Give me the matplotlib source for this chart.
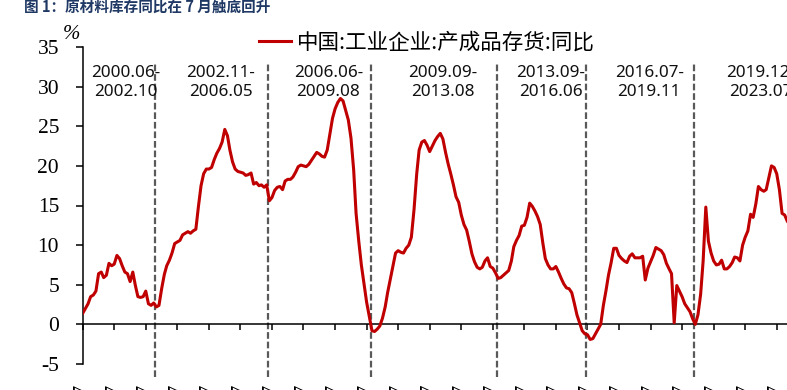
import matplotlib
matplotlib.use('Agg')
import matplotlib.pyplot as plt
import numpy as np
import pandas as pd

plt.rcParams.update({
    'font.family': ['Liberation Serif', 'DejaVu Sans'],
    'axes.linewidth': 1.1,
})

# --- data (monthly) ---
TITLE = '图 1：原材料库存同比在 7 月触底回升'
SERIES_NAME = '中国:工业企业:产成品存货:同比'
START = '2000-07-01'

inventory_yoy = [
    # 2000.07 - 2001.06
    1.4, 2.0, 2.6, 3.5, 3.7, 4.2, 6.4, 6.6, 5.9, 6.2, 7.7, 7.4,
    # 2001.07 - 2002.06
    7.6, 8.7, 8.3, 7.4, 6.6, 6.4, 5.4, 6.6, 5.0, 3.5, 3.4, 3.5,
    # 2002.07 - 2003.06
    4.2, 2.6, 2.4, 2.7, 2.2, 2.4, 4.5, 6.3, 7.4, 8.1, 9.0, 10.2,
    # 2003.07 - 2004.06
    10.4, 10.6, 11.3, 11.5, 11.7, 11.5, 11.8, 12.0, 14.8, 17.5, 19.0, 19.6,
    # 2004.07 - 2005.06
    19.6, 19.8, 20.8, 21.6, 22.2, 23.0, 24.6, 23.8, 22.0, 20.5, 19.6, 19.3,
    # 2005.07 - 2006.06
    19.2, 19.1, 18.8, 18.9, 19.1, 17.7, 17.9, 17.5, 17.6, 17.3, 17.6, 15.6,
    # 2006.07 - 2007.06
    16.0, 16.9, 17.3, 17.4, 17.0, 18.1, 18.3, 18.3, 18.6, 19.2, 19.9, 20.1,
    # 2007.07 - 2008.06
    20.0, 19.9, 20.2, 20.7, 21.2, 21.7, 21.5, 21.2, 21.1, 22.0, 24.0, 26.0,
    # 2008.07 - 2009.06
    27.2, 28.0, 28.5, 28.2, 27.0, 25.8, 23.5, 19.5, 14.0, 10.5, 7.5, 5.1,
    # 2009.07 - 2010.06
    2.8, 1.0, -0.8, -0.9, -0.6, -0.2, 0.8, 2.2, 4.0, 5.7, 7.4, 9.0,
    # 2010.07 - 2011.06
    9.3, 9.1, 9.0, 9.6, 10.0, 11.0, 14.5, 19.0, 22.0, 23.0, 23.2, 22.6,
    # 2011.07 - 2012.06
    21.8, 22.5, 23.2, 23.7, 24.1, 23.4, 21.7, 20.2, 19.0, 17.6, 16.1, 15.4,
    # 2012.07 - 2013.06
    13.8, 12.6, 11.9, 10.5, 8.9, 7.9, 7.2, 7.0, 7.2, 8.0, 8.4, 7.3,
    # 2013.07 - 2014.06
    7.1, 6.5, 5.8, 5.9, 6.2, 6.5, 6.8, 8.0, 9.8, 10.6, 11.2, 12.4,
    # 2014.07 - 2015.06
    12.5, 13.5, 15.3, 14.9, 14.3, 13.6, 12.6, 10.2, 8.3, 7.5, 7.0, 7.0,
    # 2015.07 - 2016.06
    7.3, 6.6, 5.8, 5.1, 4.6, 4.5, 4.0, 2.6, 1.2, 0.2, -0.8, -1.2,
    # 2016.07 - 2017.06
    -1.3, -1.9, -1.8, -1.2, -0.6, 0.0, 2.4, 4.3, 6.2, 7.8, 9.6, 9.6,
    # 2017.07 - 2018.06
    8.7, 8.3, 8.0, 7.8, 8.6, 8.9, 8.4, 8.4, 8.4, 8.6, 5.6, 7.1,
    # 2018.07 - 2019.06
    7.9, 8.7, 9.7, 9.5, 9.3, 8.8, 7.7, 7.0, 6.4, 0.2, 4.9, 4.2,
    # 2019.07 - 2020.06
    3.5, 2.6, 2.1, 1.6, 0.7, 0.0, 1.2, 3.8, 8.0, 14.8, 10.5, 9.0,
    # 2020.07 - 2021.06
    8.0, 7.5, 7.6, 8.1, 7.0, 7.0, 7.3, 7.8, 8.5, 8.4, 8.0, 10.0,
    # 2021.07 - 2022.06
    11.0, 11.8, 13.9, 13.5, 15.2, 17.4, 17.0, 16.8, 17.0, 18.5, 20.0, 19.8,
    # 2022.07 - 2022.12
    19.0, 17.0, 14.0, 13.8, 13.0, 12.6,
]

cycle_starts = ['2000.06', '2002.11', '2006.06', '2009.09', '2013.09', '2016.07', '2019.12']
cycle_ends = ['2002.10', '2006.05', '2009.08', '2013.08', '2016.06', '2019.11', '2023.07']

y_ticks = list(range(-5, 40, 5))

# --- layout ---
W, H = 787, 390
C_LINE = '#C00000'
C_DASH = '#595959'

dates = pd.date_range(START, periods=len(inventory_yoy), freq='MS')
x_left = pd.Timestamp(START)
x_right = pd.Timestamp('2023-10-01')
tick_dates = pd.date_range(START, '2022-07-01', freq='12MS')


def month_ts(s, shift_days=0):
    y, m = s.split('.')
    return pd.Timestamp(int(y), int(m), 1) + pd.Timedelta(days=shift_days)


fig = plt.figure(figsize=(W / 100, H / 100), dpi=100)
ax = fig.add_axes([82.7 / W, 1 - 364 / H, 733.5 / W, 317 / H])

ax.plot(dates, inventory_yoy, color=C_LINE, lw=2.2, label=SERIES_NAME,
        solid_joinstyle='round', zorder=3)

# cycle boundaries
for e in cycle_ends[:-1]:
    ax.axvline(month_ts(e, 15), ymin=-0.04, ymax=0.95, color=C_DASH, lw=1.6,
               linestyle=(0, (3, 1.3)), clip_on=False, zorder=2)

# cycle labels
for s, e in zip(cycle_starts, cycle_ends):
    t0, t1 = month_ts(s), month_ts(e)
    mid = t0 + (t1 - t0) / 2 + pd.Timedelta(days=106)
    ax.text(mid, 30.5, f'{s}-\n{e}', ha='center', va='center', fontsize=12.3,
            family='Noto Sans', color='#111111', linespacing=1.3, zorder=4)

ax.set_xlim(x_left, x_right)
ax.set_ylim(-5, 35)
ax.set_yticks(y_ticks)
ax.set_yticklabels([str(v) for v in y_ticks])
ax.set_xticks(tick_dates)
ax.set_xticklabels(tick_dates.strftime('%Y-%m'))

ax.spines['top'].set_visible(False)
ax.spines['right'].set_visible(False)
ax.spines['bottom'].set_position(('data', 0))
ax.tick_params(axis='y', direction='out', length=5, width=1.1, pad=12,
               labelsize=15.5)
ax.tick_params(axis='x', direction='out', length=4.5, width=1.1, pad=38,
               labelsize=15, labelrotation=90)

ax.legend(loc='center left', bbox_to_anchor=(259 / W, 1 - 43 / H),
          bbox_transform=fig.transFigure, frameon=False,
          prop={'family': ['Noto Sans CJK SC'], 'size': 15.5},
          handlelength=1.5, handletextpad=0.25, borderpad=0, borderaxespad=0)

fig.text(24 / W, 1 - 8 / H, TITLE, fontsize=10.5, fontweight='bold',
         color='#1F3864', va='center', family=['Noto Sans CJK SC'])
fig.text(71 / W, 1 - 34.5 / H, '%', ha='center', va='center', fontsize=15,
         style='italic', family='Liberation Serif')

fig.savefig('out.png', dpi=100)
